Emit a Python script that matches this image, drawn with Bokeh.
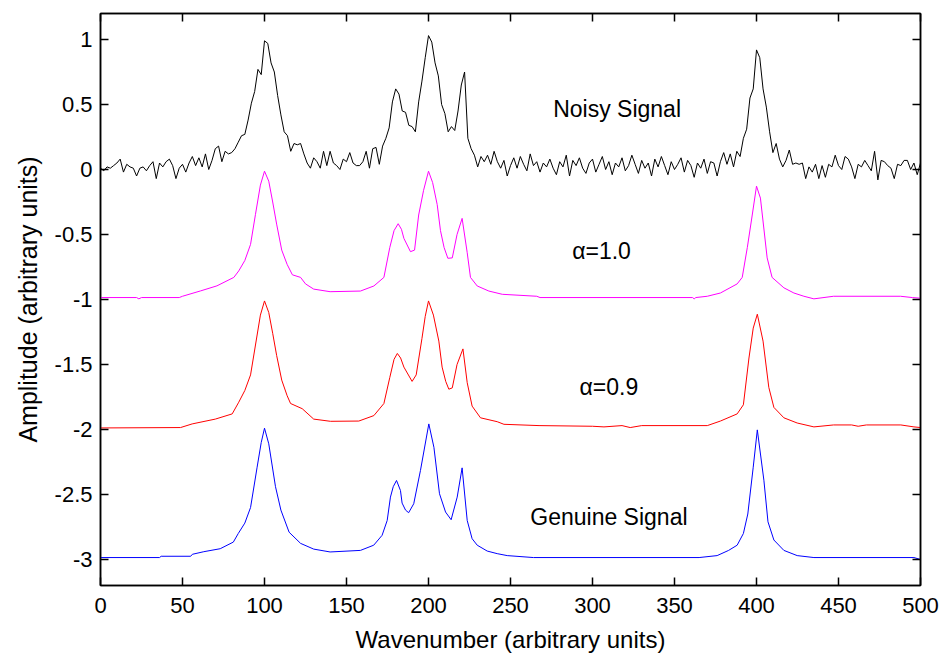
from bokeh.plotting import figure
from bokeh.models import Range1d, LinearAxis, FixedTicker, Label
from bokeh.embed import file_html
from bokeh.resources import INLINE

# ---------------- data ----------------
x_ticks = [0, 50, 100, 150, 200, 250, 300, 350, 400, 450, 500]
y_ticks = [-3, -2.5, -2, -1.5, -1, -0.5, 0, 0.5, 1]
y_tick_labels = {-3: "-3", -2.5: "-2.5", -2: "-2", -1.5: "-1.5", -1: "-1",
                 -0.5: "-0.5", 0: "0", 0.5: "0.5", 1: "1"}

# noisy signal, one value every 2 wavenumber units from 0 to 500
noisy_step = 2
noisy_values = [
    0.01, -0.01, 0.02, 0.01, 0.03, 0.05, 0.08, -0.02, 0.04, 0.02,
    0.01, -0.05, 0.01, 0.02, -0.01, 0.03, 0.06, -0.07, 0.05, 0.02,
    0.06, 0.08, 0.03, -0.07, 0.01, 0.04, -0.02, 0.05, 0.10, 0.03,
    0.09, 0.02, 0.12, 0.00, 0.07, 0.16, 0.18, 0.06, 0.14, 0.12,
    0.13, 0.16, 0.21, 0.26, 0.27, 0.38, 0.51, 0.60, 0.77, 0.73,
    0.99, 0.97, 0.82, 0.75, 0.57, 0.42, 0.29, 0.26, 0.14, 0.20,
    0.19, 0.20, 0.12, 0.05, 0.01, 0.09, 0.06, 0.01, 0.14, 0.03,
    0.14, 0.05, 0.03, 0.00, 0.08, 0.06, 0.13, 0.05, 0.03, 0.03,
    0.06, 0.14, 0.01, 0.16, 0.17, 0.04, 0.18, 0.24, 0.32, 0.52,
    0.62, 0.58, 0.45, 0.44, 0.34, 0.33, 0.29, 0.52, 0.68, 0.86,
    1.03, 0.98, 0.82, 0.72, 0.50, 0.43, 0.29, 0.33, 0.30, 0.45,
    0.65, 0.75, 0.24, 0.16, 0.11, 0.02, 0.10, 0.06, 0.11, 0.04,
    0.14, 0.06, 0.01, 0.07, -0.05, 0.03, 0.09, 0.01, 0.10, 0.04,
    -0.01, 0.12, 0.03, 0.06, -0.02, 0.05, 0.02, 0.08, 0.01, -0.04,
    0.06, 0.02, 0.11, -0.05, 0.07, 0.03, 0.09, 0.01, -0.03, 0.05,
    0.08, -0.02, 0.04, 0.10, 0.00, 0.06, -0.04, 0.05, 0.02, 0.09,
    -0.01, 0.03, 0.11, 0.04, -0.03, 0.07, 0.01, 0.05, -0.05, 0.08,
    0.02, 0.10, 0.03, -0.04, 0.06, 0.00, 0.04, 0.09, -0.02, 0.07,
    0.03, -0.06, 0.05, 0.01, 0.08, -0.03, 0.06, 0.05, -0.05, 0.06,
    0.13, 0.04, 0.12, 0.02, 0.14, 0.10, 0.24, 0.31, 0.55, 0.62,
    0.92, 0.86, 0.62, 0.48, 0.29, 0.13, 0.20, 0.08, 0.02, 0.07,
    0.15, 0.04, 0.05, 0.04, 0.05, -0.07, 0.02, -0.02, 0.04, -0.07,
    0.03, -0.06, 0.04, 0.02, 0.11, 0.03, 0.00, 0.10, 0.08, 0.02,
    -0.07, 0.04, 0.02, 0.07, 0.03, -0.01, 0.14, -0.08, 0.07, 0.06,
    0.03, 0.01, -0.07, 0.04, 0.03, 0.07, 0.07, 0.00, 0.05, -0.04,
    0.05,
]
noisy_x = [i * noisy_step for i in range(len(noisy_values))]

# alpha = 1.0 result (offset -1), breakpoints (x, y)
alpha10_pts = [
    (0, -0.985), (22, -0.985), (23.4, -0.995), (25, -0.985), (48, -0.985),
    (50, -0.975), (61, -0.934), (71, -0.895), (81.3, -0.83), (84.3, -0.78),
    (88, -0.70), (91.5, -0.576), (94.5, -0.345), (97.5, -0.12), (100, -0.013),
    (102.6, -0.09), (105, -0.25), (107.4, -0.42), (110.5, -0.62), (113.8, -0.73),
    (117, -0.81), (122, -0.83), (125, -0.88), (130, -0.92), (140, -0.94),
    (158.5, -0.935), (166.7, -0.896), (172.8, -0.83), (176.4, -0.60), (179, -0.47),
    (181.5, -0.417), (183.5, -0.46), (185, -0.53), (189, -0.632), (191.5, -0.62),
    (194, -0.35), (197, -0.16), (200, -0.013), (202.5, -0.10), (205.3, -0.27),
    (207.3, -0.47), (209.5, -0.60), (211.8, -0.683), (214.5, -0.68), (217.4, -0.50),
    (220.5, -0.376), (223.6, -0.64), (225.6, -0.83), (229.7, -0.896), (236.8, -0.935),
    (245, -0.96), (266, -0.975), (268, -0.985), (361, -0.985), (362, -0.995),
    (363, -0.985), (370, -0.975), (378, -0.95), (388.2, -0.88), (391.3, -0.83),
    (394.4, -0.60), (397.4, -0.35), (400, -0.128), (402.4, -0.22), (406.5, -0.68),
    (409.5, -0.83), (416.7, -0.91), (422.8, -0.95), (428.9, -0.975), (435, -0.995),
    (447, -0.975), (487.8, -0.975), (495, -0.985), (500, -0.99),
]

# alpha = 0.9 result (offset -2)
alpha09_pts = [
    (0, -1.988), (48.8, -1.985), (55.9, -1.957), (70, -1.92), (80.3, -1.88),
    (84.3, -1.79), (88, -1.70), (91.5, -1.58), (94.5, -1.35), (97.5, -1.12),
    (100, -1.011), (102.6, -1.10), (105, -1.26), (107.4, -1.43), (110.5, -1.62),
    (113.8, -1.74), (115.9, -1.80), (123, -1.84), (130, -1.92), (140.2, -1.937),
    (157.5, -1.935), (166.7, -1.893), (172.8, -1.80), (176.4, -1.60), (179, -1.46),
    (181, -1.415), (183, -1.45), (185, -1.52), (190, -1.63), (192.5, -1.58),
    (196, -1.30), (198, -1.13), (200, -1.011), (203, -1.12), (206.3, -1.32),
    (208.3, -1.52), (210.5, -1.63), (212.4, -1.69), (214.5, -1.68), (217.4, -1.50),
    (221, -1.38), (223.6, -1.64), (226.6, -1.82), (231.7, -1.91), (241.9, -1.94),
    (246, -1.96), (267.4, -1.97), (300, -1.975), (307, -1.98), (318, -1.97),
    (323, -1.985), (330, -1.97), (370, -1.97), (378, -1.935), (388.2, -1.88),
    (392, -1.81), (395.4, -1.45), (398, -1.22), (400.5, -1.113), (404, -1.32),
    (407.5, -1.676), (410.6, -1.83), (416.7, -1.91), (424.8, -1.95), (435, -1.98),
    (447, -1.965), (458, -1.965), (462, -1.975), (467, -1.965), (488, -1.965),
    (496, -1.98), (500, -1.985),
]

# genuine signal (offset -3)
genuine_pts = [
    (0, -2.985), (36, -2.985), (37, -2.975), (55, -2.975), (56, -2.96),
    (63, -2.94), (73, -2.917), (81, -2.866), (84, -2.80), (88, -2.72),
    (91.5, -2.60), (95.5, -2.29), (98, -2.10), (100, -1.99), (102.6, -2.11),
    (106.7, -2.44), (110, -2.62), (115, -2.79), (122, -2.876), (130, -2.92),
    (140, -2.942), (158.5, -2.93), (166.6, -2.89), (171.7, -2.814), (174.8, -2.70),
    (176.8, -2.52), (178.5, -2.44), (180.5, -2.392), (182.9, -2.469), (183.9, -2.566),
    (186, -2.62), (187.9, -2.64), (191, -2.571), (195.1, -2.315), (200.2, -1.957),
    (203.3, -2.137), (206.7, -2.494), (210.4, -2.635), (213.8, -2.694), (217.5, -2.52),
    (220.5, -2.295), (223.6, -2.70), (226.6, -2.84), (229.7, -2.89), (235.8, -2.935),
    (241.9, -2.955), (248, -2.97), (264, -2.985), (365, -2.985), (376, -2.97),
    (383, -2.93), (388.2, -2.89), (392, -2.80), (394.7, -2.65), (398, -2.29),
    (400.5, -2.003), (404.5, -2.39), (407, -2.71), (410.6, -2.85), (416.7, -2.93),
    (424.8, -2.97), (435, -2.985), (496, -2.985), (500, -3.0),
]

annotations = [
    ("Noisy Signal", 315, 0.463),
    ("\u03b1=1.0", 305.5, -0.627),
    ("\u03b1=0.9", 310, -1.671),
    ("Genuine Signal", 310, -2.674),
]

# ---------------- styling ----------------
FONT = "Liberation Sans"
TICK_SIZE = "22px"

p = figure(width=944, height=655, output_backend="svg", toolbar_location=None,
           x_range=Range1d(0, 500), y_range=Range1d(-3.2, 1.2),
           min_border_left=100, min_border_right=24,
           min_border_top=13, min_border_bottom=69)
p.background_fill_color = "white"
p.border_fill_color = "white"
p.grid.visible = False
p.outline_line_color = "black"
p.outline_line_width = 1.5

p.line(noisy_x, noisy_values, line_color="black", line_width=1)
p.line([q[0] for q in alpha10_pts], [q[1] for q in alpha10_pts], line_color="#FF00FF", line_width=1)
p.line([q[0] for q in alpha09_pts], [q[1] for q in alpha09_pts], line_color="#FF0000", line_width=1)
p.line([q[0] for q in genuine_pts], [q[1] for q in genuine_pts], line_color="#0000FF", line_width=1)

for txt, x, y in annotations:
    p.add_layout(Label(x=x, y=y, text=txt, text_align="center", text_baseline="middle",
                       text_font=FONT, text_font_size="23px", text_color="black"))

def style_axis(ax, ticks, show_labels):
    ax.ticker = FixedTicker(ticks=ticks)
    ax.major_tick_in = 8
    ax.major_tick_out = 0
    ax.minor_tick_in = 0
    ax.minor_tick_out = 0
    ax.major_tick_line_color = "black"
    ax.major_tick_line_width = 1.5
    ax.axis_line_color = "black"
    ax.axis_line_width = 1.5
    ax.major_label_text_font = FONT
    ax.axis_label_text_font = FONT
    ax.axis_label_text_font_style = "normal"
    ax.axis_label_text_color = "black"
    if show_labels:
        ax.major_label_text_font_size = TICK_SIZE
        ax.major_label_text_color = "black"
    else:
        ax.major_label_text_font_size = "1px"
        ax.major_label_text_color = None
        ax.major_label_standoff = 0

xa = p.xaxis[0]
style_axis(xa, x_ticks, True)
xa.axis_label = "Wavenumber (arbitrary units)"
xa.axis_label_text_font_size = "24px"
xa.major_label_standoff = 12
xa.axis_label_standoff = 10

ya = p.yaxis[0]
style_axis(ya, y_ticks, True)
ya.major_label_overrides = y_tick_labels
ya.axis_label = "Amplitude (arbitrary units)"
ya.axis_label_text_font_size = "25px"
ya.major_label_standoff = 8
ya.axis_label_standoff = 10

top = LinearAxis()
style_axis(top, x_ticks, False)
p.add_layout(top, "above")
right = LinearAxis()
style_axis(right, y_ticks, False)
p.add_layout(right, "right")

open("out.html", "w").write(file_html(p, INLINE))
